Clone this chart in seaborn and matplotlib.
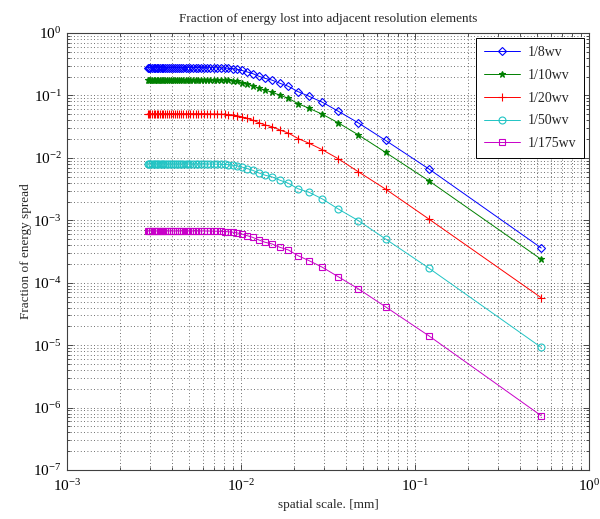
import numpy as np
import pandas as pd
import matplotlib
matplotlib.use("Agg")
import matplotlib.pyplot as plt
import seaborn as sns
from matplotlib.ticker import LogLocator, NullFormatter

# ---------------- data ----------------
spatial_scale = [
    0.53, 0.1203, 0.06766, 0.04706, 0.03608, 0.02925, 0.02460, 0.02122, 0.01866,
    0.01665, 0.01503, 0.01370, 0.01258, 0.01164, 0.01082, 0.01011, 0.00949,
    0.00894, 0.00845, 0.00802, 0.00762, 0.00726, 0.00694, 0.00664, 0.00637,
    0.00611, 0.00588, 0.00567, 0.00547, 0.00528, 0.00510, 0.00494, 0.00479,
    0.00464, 0.00451, 0.00438, 0.00426, 0.00415, 0.00404, 0.00394, 0.00384,
    0.00374, 0.00366, 0.00357, 0.00349, 0.00341, 0.00334, 0.00327, 0.00320,
    0.00314, 0.00307, 0.00301, 0.00296, 0.00290,
]

wv8 = [
    3.6e-4, 6.6e-3, 0.0190, 0.0364, 0.056, 0.0778, 0.0966, 0.115, 0.140,
    0.157, 0.176, 0.188, 0.204, 0.224, 0.238, 0.251, 0.262,
    0.268, 0.272, 0.274, 0.276, 0.277, 0.278, 0.2786, 0.279,
    0.28, 0.28, 0.28, 0.28, 0.28, 0.28, 0.28, 0.28,
    0.28, 0.28, 0.28, 0.28, 0.28, 0.28, 0.28, 0.28,
    0.28, 0.28, 0.28, 0.28, 0.28, 0.28, 0.28, 0.28,
    0.28, 0.28, 0.28, 0.28, 0.28,
]
wv10 = [
    2.37e-4, 4.26e-3, 0.0122, 0.0234, 0.0365, 0.050, 0.0621, 0.0738, 0.090,
    0.101, 0.113, 0.121, 0.131, 0.144, 0.153, 0.161, 0.168,
    0.172, 0.175, 0.1764, 0.1775, 0.178, 0.1787, 0.179, 0.1795,
    0.18, 0.18, 0.18, 0.18, 0.18, 0.18, 0.18, 0.18,
    0.18, 0.18, 0.18, 0.18, 0.18, 0.18, 0.18, 0.18,
    0.18, 0.18, 0.18, 0.18, 0.18, 0.18, 0.18, 0.18,
    0.18, 0.18, 0.18, 0.18, 0.18,
]
wv20 = [
    5.75e-5, 1.04e-3, 3.15e-3, 6.0e-3, 9.7e-3, 0.0135, 0.0171, 0.0204, 0.025,
    0.028, 0.0316, 0.0337, 0.0367, 0.0403, 0.0428, 0.0454, 0.0474,
    0.0487, 0.0495, 0.0500, 0.0502, 0.0505, 0.0506, 0.0507, 0.0508,
    0.051, 0.051, 0.051, 0.051, 0.051, 0.051, 0.051, 0.051,
    0.051, 0.051, 0.051, 0.051, 0.051, 0.051, 0.051, 0.051,
    0.051, 0.051, 0.051, 0.051, 0.051, 0.051, 0.051, 0.051,
    0.051, 0.051, 0.051, 0.051, 0.051,
]
wv50 = [
    9.2e-6, 1.7e-4, 5.0e-4, 9.9e-4, 1.52e-3, 2.2e-3, 2.8e-3, 3.2e-3, 3.92e-3,
    4.4e-3, 4.96e-3, 5.28e-3, 5.76e-3, 6.32e-3, 6.72e-3, 7.12e-3, 7.44e-3,
    7.64e-3, 7.76e-3, 7.84e-3, 7.88e-3, 7.92e-3, 7.94e-3, 7.96e-3, 7.98e-3,
    8.0e-3, 8.0e-3, 8.0e-3, 8.0e-3, 8.0e-3, 8.0e-3, 8.0e-3, 8.0e-3,
    8.0e-3, 8.0e-3, 8.0e-3, 8.0e-3, 8.0e-3, 8.0e-3, 8.0e-3, 8.0e-3,
    8.0e-3, 8.0e-3, 8.0e-3, 8.0e-3, 8.0e-3, 8.0e-3, 8.0e-3, 8.0e-3,
    8.0e-3, 8.0e-3, 8.0e-3, 8.0e-3, 8.0e-3,
]
wv175 = [
    7.4e-7, 1.4e-5, 4.1e-5, 8.0e-5, 1.25e-4, 1.77e-4, 2.25e-4, 2.71e-4, 3.35e-4,
    3.7e-4, 4.18e-4, 4.45e-4, 4.86e-4, 5.33e-4, 5.67e-4, 6.0e-4, 6.28e-4,
    6.45e-4, 6.55e-4, 6.61e-4, 6.65e-4, 6.68e-4, 6.70e-4, 6.72e-4, 6.73e-4,
    6.75e-4, 6.75e-4, 6.75e-4, 6.75e-4, 6.75e-4, 6.75e-4, 6.75e-4, 6.75e-4,
    6.75e-4, 6.75e-4, 6.75e-4, 6.75e-4, 6.75e-4, 6.75e-4, 6.75e-4, 6.75e-4,
    6.75e-4, 6.75e-4, 6.75e-4, 6.75e-4, 6.75e-4, 6.75e-4, 6.75e-4, 6.75e-4,
    6.75e-4, 6.75e-4, 6.75e-4, 6.75e-4, 6.75e-4,
]

series_labels = ["1/8wv", "1/10wv", "1/20wv", "1/50wv", "1/175wv"]
series_values = [wv8, wv10, wv20, wv50, wv175]

title_text = "Fraction of energy lost into adjacent resolution elements"
xlabel_text = "spatial scale. [mm]"
ylabel_text = "Fraction of energy spread"

# ---------------- styles ----------------
colors = ["#0000ff", "#008000", "#ff0000", "#20c4c4", "#c800c8"]
markers = ["D", "*", "+", "o", "s"]
marker_sizes = [4.0, 5.0, 5.5, 5.0, 5.0]
open_face = [True, False, True, True, True]

sns.set_style("white")
plt.rcParams["font.family"] = ["Liberation Serif", "DejaVu Serif"]
plt.rcParams["mathtext.fontset"] = "custom"
plt.rcParams["mathtext.rm"] = "Liberation Serif"
plt.rcParams["mathtext.it"] = "Liberation Serif:italic"
plt.rcParams["mathtext.bf"] = "Liberation Serif:bold"

rows = []
for lab, vals in zip(series_labels, series_values):
    for x, y in zip(spatial_scale, vals):
        rows.append({"scale": x, "frac": y, "series": lab})
df = pd.DataFrame(rows)

fig = plt.figure(figsize=(6.0, 5.19), dpi=100)
ax = fig.add_axes([0.112, 0.0944, 0.870, 0.842])

for lab, col, mk, ms, op in zip(series_labels, colors, markers, marker_sizes, open_face):
    sub = df[df["series"] == lab]
    sns.lineplot(
        data=sub, x="scale", y="frac", ax=ax, label=lab,
        color=col, marker=mk, markersize=ms,
        markeredgecolor=col,
        markerfacecolor="none" if op else col,
        markeredgewidth=0.8, linewidth=0.7,
        errorbar=None, sort=False,
    )

ax.set_xscale("log")
ax.set_yscale("log")
ax.set_xlim(1e-3, 1e0)
ax.set_ylim(1e-7, 1e0)

ax.xaxis.set_major_locator(LogLocator(base=10, numticks=10))
ax.yaxis.set_major_locator(LogLocator(base=10, numticks=10))
ax.xaxis.set_minor_locator(LogLocator(base=10, subs=np.arange(2, 10), numticks=20))
ax.yaxis.set_minor_locator(LogLocator(base=10, subs=np.arange(2, 10), numticks=20))
ax.xaxis.set_minor_formatter(NullFormatter())
ax.yaxis.set_minor_formatter(NullFormatter())

ax.grid(True, which="major", linestyle=(0, (1, 3)), color="0.25", linewidth=0.6)
ax.grid(True, which="minor", linestyle=(0, (1, 3)), color="0.25", linewidth=0.6)

ax.tick_params(which="both", direction="in", top=True, right=True,
               bottom=True, left=True, colors="0.2", labelcolor="black",
               labelsize=11)
ax.tick_params(which="major", length=4, width=0.6)
ax.tick_params(which="minor", length=2, width=0.6)
ax.tick_params(axis="x", pad=6)
ax.tick_params(axis="y", pad=4)

for sp in ax.spines.values():
    sp.set_color("0.25")
    sp.set_linewidth(0.8)
    sp.set_visible(True)

ax.set_title(title_text, fontsize=9.5, pad=8)
ax.set_xlabel(xlabel_text, fontsize=9.5)
ax.set_ylabel(ylabel_text, fontsize=9.5)
ax.yaxis.set_label_coords(-0.067, 0.5)
ax.xaxis.set_label_coords(0.5, -0.066)

leg = ax.legend(loc="upper right", fontsize=10, frameon=True, fancybox=False,
                framealpha=1, edgecolor="black", handlelength=2.6,
                labelspacing=0.7, borderpad=0.6, borderaxespad=0.35,
                handletextpad=0.5)
leg.get_frame().set_linewidth(0.7)

fig.savefig("out.png", dpi=100, facecolor="white")
